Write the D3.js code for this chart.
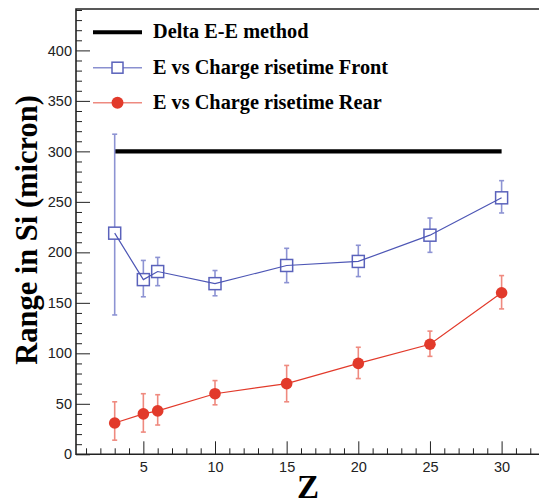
<!DOCTYPE html>
<html>
<head>
<meta charset="utf-8">
<script src="https://cdn.jsdelivr.net/npm/d3@7"></script>
<style>
  body { margin: 0; background: #fff; }
  svg { display: block; }
  .tick text { font-family: "Liberation Sans", Arial, sans-serif; font-size: 14.5px; fill: #222; }
  .title { font-family: "Liberation Serif", "Times New Roman", serif; font-weight: bold; fill: #000; }
</style>
</head>
<body>
<svg id="chart" width="539" height="499"></svg>
<script>
// Z values and measured ranges (micron)
const zVals = [3, 5, 6, 10, 15, 20, 25, 30];
const frontRange = [219, 173, 181, 169, 187, 191, 217, 254];
const frontLow = [138, 156, 167, 157, 170, 176, 200, 239];
const frontHigh = [317, 192, 195, 182, 204, 207, 234, 271];
const rearRange = [31, 40, 43, 60, 70, 90, 109, 160];
const rearLow = [14, 22, 29, 49, 52, 75, 97, 144];
const rearHigh = [52, 60, 59, 73, 88, 106, 122, 177];
const deltaZ = [3, 30];
const deltaRange = [300, 300];
const legendLabels = ["Delta E-E method", "E vs Charge risetime Front", "E vs Charge risetime Rear"];
const xMajor = [5, 10, 15, 20, 25, 30];
const yMajor = [0, 50, 100, 150, 200, 250, 300, 350, 400];

const blue = "#4d56b5", blueErr = "#8d93d3";
const red = "#e23a2b", redErr = "#ef8a7f";

const svg = d3.select("#chart");
const margin = {left: 76, top: 9, bottom: 454.3};

const x = d3.scaleLinear().domain([0.3, 33]).range([margin.left, 544.6]);
const y = d3.scaleLinear().domain([0, 441]).range([margin.bottom, margin.top]);

// minor ticks
svg.append("g")
    .attr("transform", `translate(${margin.left},0)`)
    .call(d3.axisLeft(y).tickValues(d3.range(10, 441, 10).filter(d => d % 50 !== 0))
        .tickSize(-6).tickFormat(""))
    .call(g => g.select(".domain").remove())
    .call(g => g.selectAll("line").attr("stroke", "#222"));
svg.append("g")
    .attr("transform", `translate(0,${margin.bottom})`)
    .call(d3.axisBottom(x).tickValues(d3.range(1, 33).filter(d => d % 5 !== 0))
        .tickSize(-6).tickFormat(""))
    .call(g => g.select(".domain").remove())
    .call(g => g.selectAll("line").attr("stroke", "#222"));

// major ticks
svg.append("g")
    .attr("transform", `translate(${margin.left},0)`)
    .call(d3.axisLeft(y).tickValues(yMajor).tickSize(-14).tickPadding(4))
    .call(g => g.select(".domain").remove())
    .call(g => g.selectAll("line").attr("stroke", "#222"));
svg.append("g")
    .attr("transform", `translate(0,${margin.bottom})`)
    .call(d3.axisBottom(x).tickValues(xMajor).tickSize(-13).tickPadding(7))
    .call(g => g.select(".domain").remove())
    .call(g => g.selectAll("line").attr("stroke", "#222"));

// frame
svg.append("path")
    .attr("d", `M539,${margin.top}H${margin.left}V${margin.bottom}H539`)
    .attr("fill", "none").attr("stroke", "#222").attr("stroke-width", 1.6);

// Delta E-E
svg.append("path")
    .attr("d", d3.line().x(d => x(d[0])).y(d => y(d[1]))(d3.zip(deltaZ, deltaRange)))
    .attr("stroke", "#000").attr("stroke-width", 4.3).attr("fill", "none");

const errBars = (low, high, color) => {
    const g = svg.append("g").attr("stroke", color).attr("stroke-width", 1.6);
    zVals.forEach((z, i) => {
        g.append("line").attr("x1", x(z)).attr("x2", x(z)).attr("y1", y(low[i])).attr("y2", y(high[i]));
        [low[i], high[i]].forEach(v => {
            g.append("line").attr("x1", x(z) - 2.5).attr("x2", x(z) + 2.5).attr("y1", y(v)).attr("y2", y(v));
        });
    });
};
errBars(frontLow, frontHigh, blueErr);
errBars(rearLow, rearHigh, redErr);

const line = d3.line().x(d => x(d[0])).y(d => y(d[1]));

// front squares
svg.append("g").selectAll("rect").data(d3.zip(zVals, frontRange)).join("rect")
    .attr("x", d => x(d[0]) - 6).attr("y", d => y(d[1]) - 6)
    .attr("width", 12).attr("height", 12)
    .attr("fill", "#fff").attr("stroke", "#5a62bb").attr("stroke-width", 1.5);
svg.append("path").attr("d", line(d3.zip(zVals, frontRange)))
    .attr("stroke", blue).attr("stroke-width", 1.2).attr("fill", "none");

// rear circles
svg.append("path").attr("d", line(d3.zip(zVals, rearRange)))
    .attr("stroke", red).attr("stroke-width", 1.2).attr("fill", "none");
svg.append("g").selectAll("circle").data(d3.zip(zVals, rearRange)).join("circle")
    .attr("cx", d => x(d[0])).attr("cy", d => y(d[1])).attr("r", 5.8)
    .attr("fill", red);

// legend
const legY = [32.3, 67.7, 102.7];
const lg = svg.append("g");
lg.append("line").attr("x1", 93).attr("x2", 142).attr("y1", legY[0]).attr("y2", legY[0])
    .attr("stroke", "#000").attr("stroke-width", 4);
lg.append("line").attr("x1", 93).attr("x2", 142).attr("y1", legY[1]).attr("y2", legY[1])
    .attr("stroke", "#8a90d0").attr("stroke-width", 1.5);
lg.append("rect").attr("x", 117.5 - 5.5).attr("y", legY[1] - 5.5).attr("width", 11).attr("height", 11)
    .attr("fill", "#fff").attr("stroke", "#5a62bb").attr("stroke-width", 1.5);
lg.append("line").attr("x1", 93).attr("x2", 142).attr("y1", legY[2]).attr("y2", legY[2])
    .attr("stroke", "#ee8a80").attr("stroke-width", 1.5);
lg.append("circle").attr("cx", 117.5).attr("cy", legY[2]).attr("r", 6).attr("fill", red);
legendLabels.forEach((t, i) => {
    lg.append("text").attr("class", "title").attr("x", 153).attr("y", legY[i] + 6)
        .attr("font-size", 20.3).text(t);
});

// axis titles
svg.append("text").attr("class", "title")
    .attr("transform", "translate(37,230) rotate(-90)")
    .attr("text-anchor", "middle").attr("font-size", 30.5)
    .text("Range in Si (micron)");
svg.append("text").attr("class", "title")
    .attr("x", 308).attr("y", 498).attr("text-anchor", "middle").attr("font-size", 33)
    .text("Z");
</script>
</body>
</html>
